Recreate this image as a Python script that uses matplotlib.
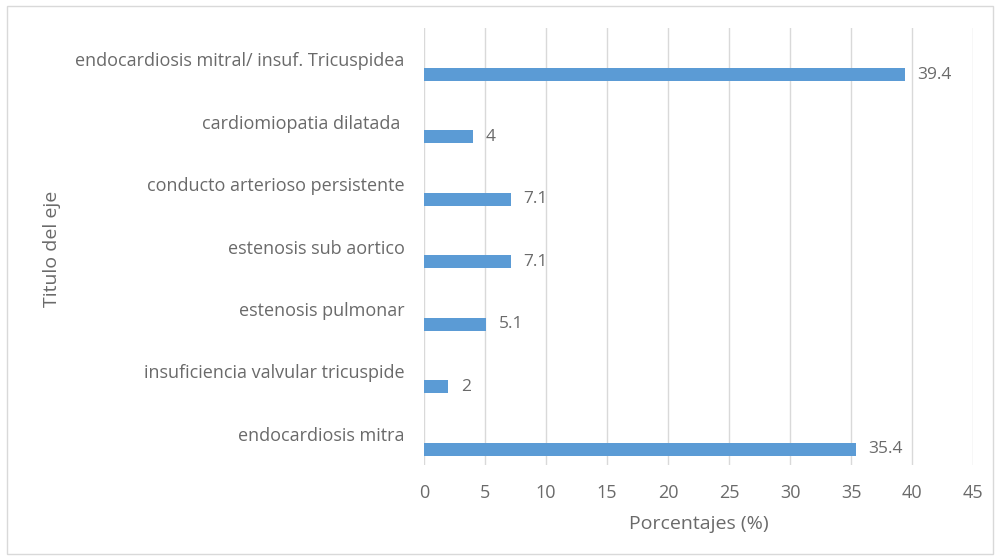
import matplotlib
matplotlib.use("Agg")
import matplotlib.pyplot as plt
from matplotlib.patches import Rectangle
import numpy as np

categories = [
    "endocardiosis mitra",
    "insuficiencia valvular tricuspide",
    "estenosis pulmonar",
    "estenosis sub aortico",
    "conducto arterioso persistente",
    "cardiomiopatia dilatada ",
    "endocardiosis mitral/ insuf. Tricuspidea",
]
porcentajes = [35.4, 2, 5.1, 7.1, 7.1, 4, 39.4]
x_ticks = [0, 5, 10, 15, 20, 25, 30, 35, 40, 45]

BLUE = "#5B9BD5"
TEXT = "#6A6A6A"
GRID = "#D9D9D9"

plt.rcParams["font.family"] = ["Open Sans", "DejaVu Sans"]

fig = plt.figure(figsize=(9.97, 5.6), dpi=100)
ax = fig.add_axes([0.4253, 0.1696, 0.5507, 0.7804])

y = np.arange(len(categories))
# bar sits in the lower half of each category slot (empty second series)
offset = -0.245
bars = ax.barh(y + offset, porcentajes, height=0.21, color=BLUE, zorder=3)

for b, v in zip(bars, porcentajes):
    label = f"{v:g}"
    ax.annotate(label, (b.get_width(), b.get_y() + b.get_height() / 2),
                xytext=(9, 0), textcoords="offset points",
                ha="left", va="center", fontsize=12.5, color=TEXT)

ax.set_xlim(0, 45)
ax.set_ylim(-0.5, len(categories) - 0.5)
ax.set_xticks(x_ticks)
ax.set_yticks(y)
ax.set_yticklabels(categories)
ax.tick_params(axis="both", length=0, labelsize=13, colors=TEXT)
ax.tick_params(axis="y", pad=14)
ax.tick_params(axis="x", pad=14)
ax.grid(axis="x", color=GRID, lw=1, zorder=0)
for s in ax.spines.values():
    s.set_visible(False)

ax.set_xlabel("Porcentajes (%)", fontsize=14, color=TEXT, labelpad=9)
fig.text(0.052, 0.556, "Titulo del eje", rotation=90, ha="center", va="center",
         fontsize=14, color=TEXT)

# light frame around the chart area
fig.patches.append(Rectangle((7 / 997, 6 / 560), 986 / 997, 548 / 560,
                             transform=fig.transFigure, fill=False,
                             edgecolor=GRID, lw=1))

fig.savefig("out.png", dpi=100, facecolor="white")
